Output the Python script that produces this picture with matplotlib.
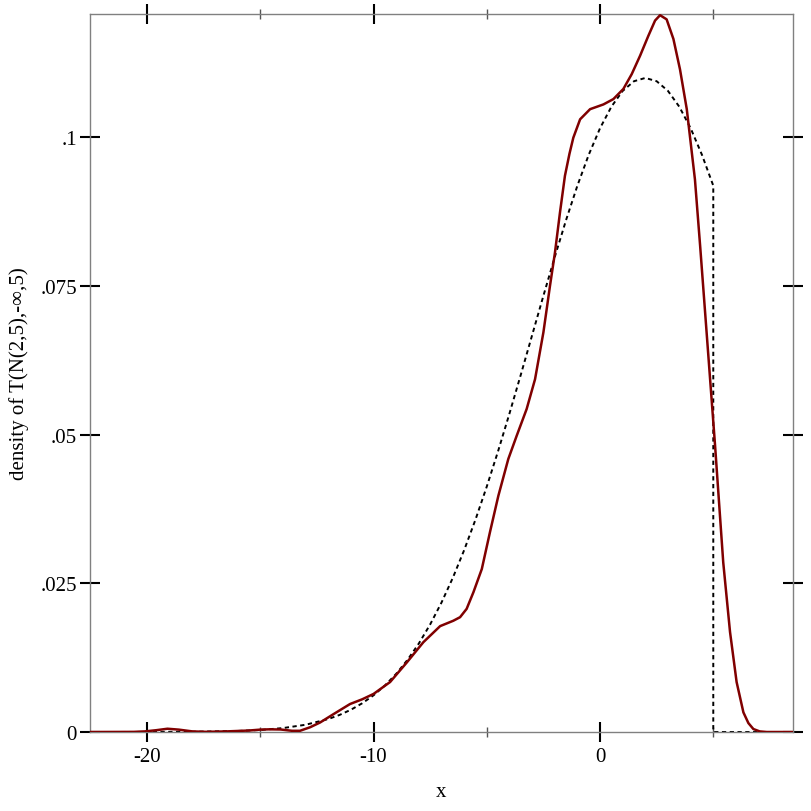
import matplotlib
matplotlib.use("Agg")
import matplotlib.pyplot as plt
from matplotlib.ticker import FixedLocator, FixedFormatter

plt.rcParams['font.family'] = ['Liberation Serif', 'DejaVu Serif']

# True density (dashed)
true_x = [-22.5, -20, -18, -16, -15, -14, -13, -12, -11.5, -11, -10.5, -10, -9.5, -9,
          -8.5, -8, -7.5, -7, -6.5, -6, -5.5, -5, -4.5, -4, -3.5, -3, -2.5, -2,
          -1.5, -1, -0.5, 0, 0.5, 1, 1.5, 2, 2.5, 3, 3.5, 4, 4.5, 5, 5, 8.5]
true_y = [0.0, 0.00001, 0.00004, 0.00017, 0.00034, 0.00066, 0.00122, 0.00218, 0.00287,
          0.00374, 0.00483, 0.00617, 0.00781, 0.00978, 0.01213, 0.01488, 0.01809,
          0.02176, 0.02592, 0.03057, 0.0357, 0.04127, 0.04723, 0.05352, 0.06004,
          0.06669, 0.07334, 0.07984, 0.08606, 0.09184, 0.09703, 0.1015, 0.10511,
          0.10777, 0.1094, 0.10995, 0.1094, 0.10777, 0.10511, 0.1015, 0.09703,
          0.09184, 0.0, 0.0]

# Estimated density (red)
est_x = [-22.5, -20.6, -20.1, -19.6, -19.1, -18.6, -18.0, -17.4, -16.5, -15.5, -15.0,
         -14.6, -14.1, -13.6, -13.25, -12.8, -12.36, -11.77, -11.04, -10.5, -10.0,
         -9.27, -8.53, -7.80, -7.06, -6.48, -6.18, -5.89, -5.59, -5.22, -4.86, -4.49,
         -4.05, -3.68, -3.24, -2.87, -2.50, -2.21, -1.99, -1.77, -1.55, -1.35, -1.18,
         -0.88, -0.44, 0.15, 0.59, 1.03, 1.40, 1.77, 2.13, 2.43, 2.65, 2.94, 3.24,
         3.53, 3.83, 4.19, 4.42, 4.64, 4.86, 5.08, 5.44, 5.74, 6.03, 6.33, 6.55,
         6.77, 7.05, 7.36, 8.5]
est_y = [0.0, 0.00002, 0.0001, 0.0003, 0.00055, 0.0004, 0.0001, 0.00003, 0.0001,
         0.00025, 0.0004, 0.00045, 0.00042, 0.0002, 0.0002, 0.0008, 0.0016, 0.0030,
         0.0047, 0.0055, 0.0064, 0.0084, 0.0117, 0.0151, 0.0178, 0.0187, 0.0193,
         0.0207, 0.0235, 0.0274, 0.0336, 0.0397, 0.0459, 0.0498, 0.0543, 0.0593,
         0.0672, 0.0750, 0.0806, 0.0873, 0.0935, 0.0972, 0.0999, 0.1030, 0.1047,
         0.1055, 0.1064, 0.1081, 0.1106, 0.1137, 0.1170, 0.1196, 0.1205, 0.1198,
         0.1165, 0.1114, 0.1047, 0.0929, 0.0817, 0.0705, 0.0593, 0.0481, 0.0285,
         0.0168, 0.0084, 0.0033, 0.0015, 0.0005, 0.0001, 0.0, 0.0]

x_major = [-20, -10, 0]
x_major_labels = ["-20", "-10", "0"]
x_minor = [-15, -5, 5]
y_major = [0, 0.025, 0.05, 0.075, 0.1]
y_major_labels = ["0", ".025", ".05", ".075", ".1"]

fig = plt.figure(figsize=(8.12, 8.12), dpi=100)
ax = fig.add_axes([90/812, 1-733/812, 703/812, 718/812])

ax.plot(true_x, true_y, color='black', lw=1.4, linestyle=(0, (2.2, 1.8)), zorder=2)
ax.plot(est_x, est_y, color='#800000', lw=1.8, zorder=3,
        solid_joinstyle='round', solid_capstyle='round')

ax.set_xlim(-22.52, 8.52)
ax.set_ylim(0, 0.1207)

for s in ax.spines.values():
    s.set_color('#808080')
    s.set_linewidth(1.0)

ax.xaxis.set_major_locator(FixedLocator(x_major))
ax.xaxis.set_major_formatter(FixedFormatter(x_major_labels))
ax.xaxis.set_minor_locator(FixedLocator(x_minor))
ax.yaxis.set_major_locator(FixedLocator(y_major))
ax.yaxis.set_major_formatter(FixedFormatter(y_major_labels))

ax.tick_params(axis='both', which='major', direction='inout', length=15, width=1.5,
               color='black', labelsize=15, top=True, right=True,
               labeltop=False, labelright=False)
ax.tick_params(axis='x', which='minor', direction='inout', length=7, width=1.0,
               color='#555555', top=True)
ax.tick_params(axis='x', which='major', pad=3)
ax.tick_params(axis='y', which='major', pad=2)

ax.set_xlabel('x', fontsize=15, labelpad=12)
ax.set_ylabel('density of T(N(2,5),-∞,5)', fontsize=15, labelpad=8)

fig.savefig('out.png', dpi=100)
